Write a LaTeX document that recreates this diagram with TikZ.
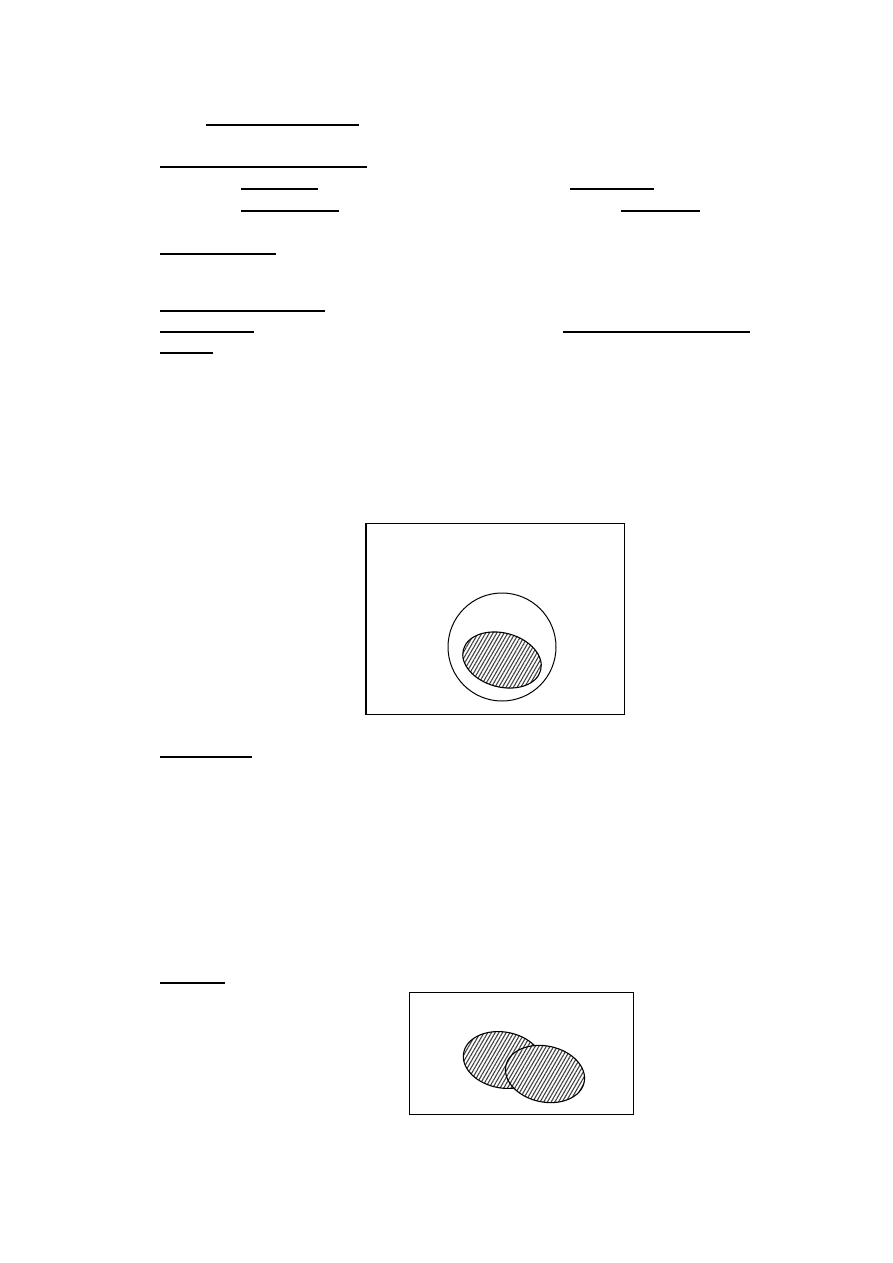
\documentclass[tikz,border=0pt]{standalone}
\usetikzlibrary{patterns.meta}
\begin{document}
\begin{tikzpicture}[x=1pt,y=-1pt,
  uline/.style={line width=1.3pt},
  frame/.style={draw,line width=1pt},
  hatched/.style={draw,line width=1.1pt,pattern={Lines[angle=60,distance=3.2pt,line width=1.1pt]},pattern color=black!75}]
\useasboundingbox (0,0) rectangle (893,1263);
% underlines
\draw[uline] (206,125) -- (359,125);
\draw[uline] (160,167) -- (367,167);
\draw[uline] (241,189) -- (318,189);
\draw[uline] (570,189) -- (654,189);
\draw[uline] (241,211) -- (339,211);
\draw[uline] (621,211) -- (700,211);
\draw[uline] (160,254) -- (276,254);
\draw[uline] (160,311) -- (325,311);
\draw[uline] (160,332) -- (254,332);
\draw[uline] (563,332) -- (750,332);
\draw[uline] (160,353) -- (213,353);
\draw[uline] (160,757) -- (252,757);
\draw[uline] (160,983) -- (225,983);
% first diagram
\node[frame,minimum width=258pt,minimum height=191pt,inner sep=0pt,anchor=north west] (boxA) at (366,523) {};
\draw[line width=2pt] (boxA.north west) -- (boxA.south west);
\node[draw,circle,line width=1pt,minimum size=108pt,inner sep=0pt] (circA) at (502,647) {};
\draw[hatched,rotate around={-15:(502,660)}] (502,660) ellipse [x radius=40, y radius=27];
% second diagram
\node[frame,minimum width=224pt,minimum height=122pt,inner sep=0pt,anchor=north west] (boxB) at (409,992) {};
\draw[hatched,rotate around={-10:(503,1060)}] (503,1060) ellipse [x radius=40, y radius=28];
\fill[white,rotate around={-12:(545,1074)}] (545,1074) ellipse [x radius=40, y radius=28];
\draw[hatched,rotate around={-12:(545,1074)}] (545,1074) ellipse [x radius=40, y radius=28];
\end{tikzpicture}
\end{document}
